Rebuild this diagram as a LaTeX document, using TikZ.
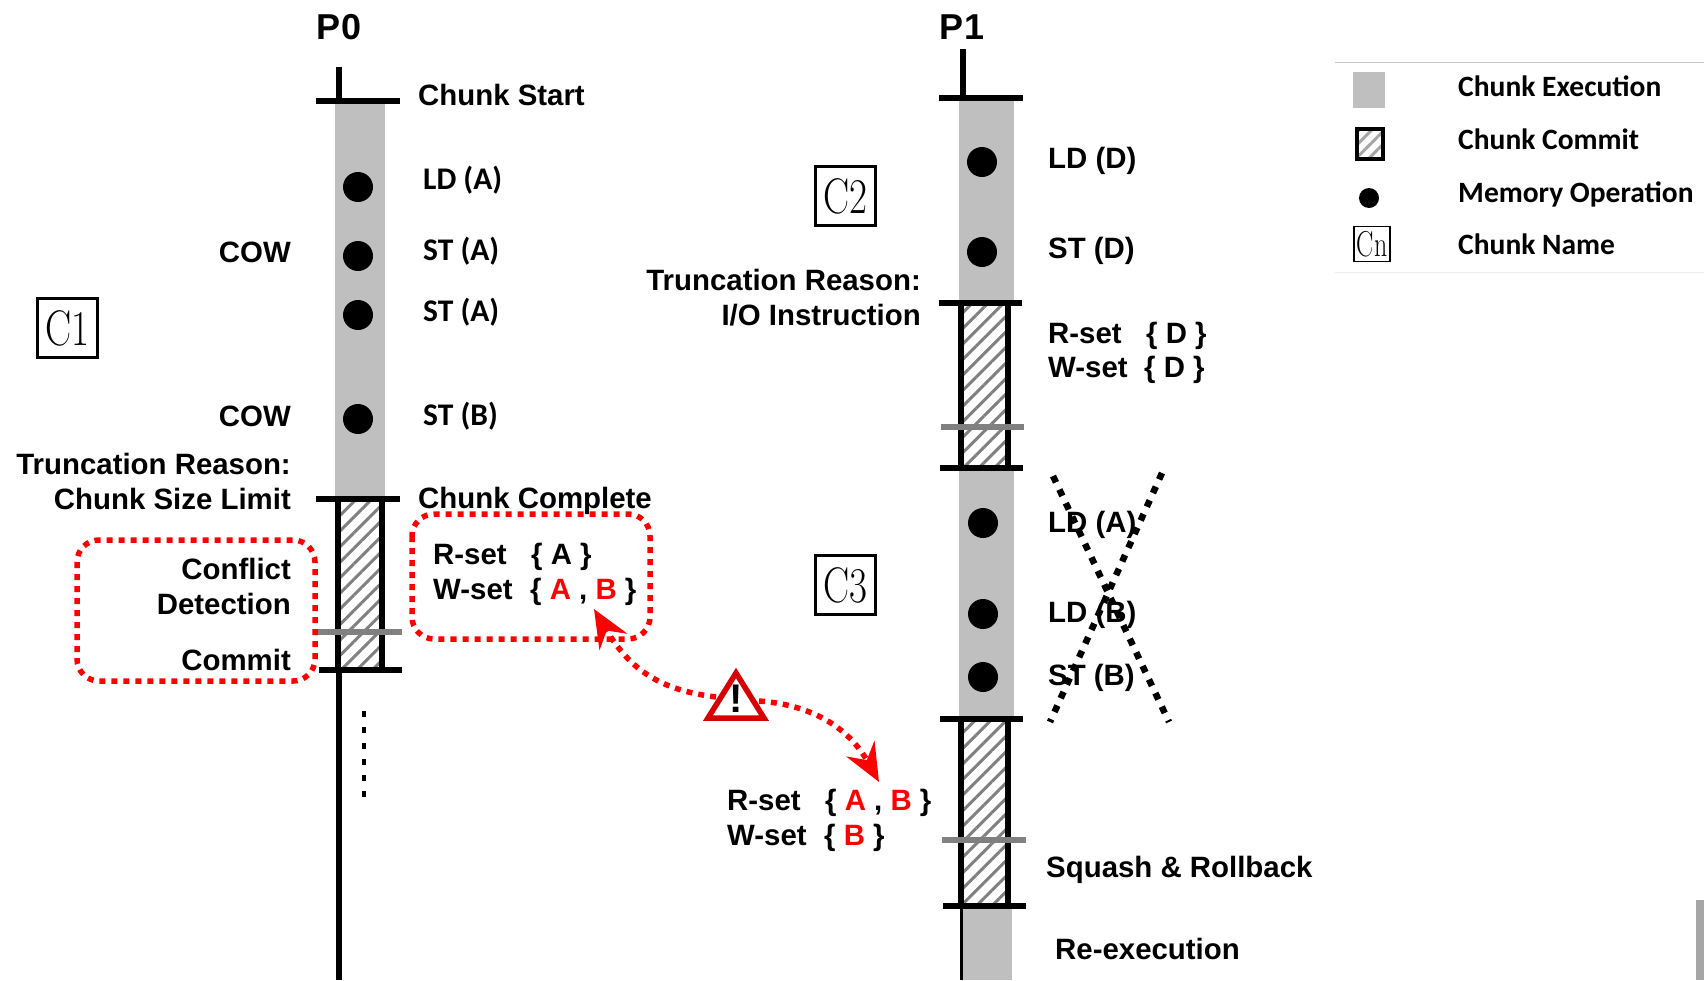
\documentclass[tikz,border=0pt]{standalone}
\usepackage{fontspec}
\usepackage{graphicx}
\usepackage{xcolor}
\usepackage{tikz}
\usetikzlibrary{arrows.meta, patterns.meta}

\newfontfamily\arialfont{Liberation Sans}
\newfontfamily\calibrifont{Carlito}
\definecolor{ChunkGray}{RGB}{191,191,191}
\definecolor{MarkGray}{RGB}{128,128,128}
\definecolor{WarnRed}{RGB}{214,0,0}
\newcommand{\redtxt}[1]{\textcolor{red}{#1}}
\newcommand{\thinname}[1]{\scalebox{.78}[1]{#1}}

\begin{document}
\begin{tikzpicture}[x=1pt, y=-1pt,
    lbl/.style={inner sep=0pt, text height=21pt, text depth=0pt, font=\fontsize{29.4}{34}\arialfont\bfseries\selectfont},
    titlelbl/.style={inner sep=0pt, text height=26pt, text depth=0pt, font=\fontsize{36}{40}\arialfont\bfseries\selectfont},
    oplbl/.style={inner sep=0pt, text height=19pt, text depth=0pt, font=\fontsize{31.5}{34}\calibrifont\bfseries\selectfont},
    leglbl/.style={oplbl, anchor=west, font=\fontsize{29.5}{34}\calibrifont\bfseries\selectfont},
    chunkname/.style={draw, line width=3pt, inner sep=0pt, minimum width=60pt, minimum height=59pt, font=\fontsize{50}{52}\selectfont},
    memop/.style={fill=black},
    bar/.style={line width=6.5pt},
    markbar/.style={line width=6.5pt, MarkGray},
    hatch/.style={pattern={Lines[angle=45, distance=11pt, line width=3pt]}, pattern color=MarkGray},
    reddots/.style={red, line width=5.5pt, dash pattern=on 6pt off 6pt},
    crossdots/.style={line width=6.5pt, dash pattern=on 7pt off 8pt},
    warnarrow/.style={red, line width=5.5pt, dash pattern=on 6pt off 6pt, -{Stealth[length=38pt, width=32pt, inset=13pt]}}
]
    \useasboundingbox (0,0) rectangle (1704,980);

    % =================================================================
    % 1. CHUNK EXECUTION COLUMNS
    % =================================================================
    \fill[ChunkGray] (335,101) rectangle (385,499);
    \fill[ChunkGray] (959,98) rectangle (1014,303);
    \fill[ChunkGray] (959,468) rectangle (1014,719);
    \fill[ChunkGray] (962,906) rectangle (1012,980);

    % Stray mark on the right edge
    \fill[gray!70] (1696,900) rectangle (1704,980);

    % =================================================================
    % 2. COMMIT BLOCKS (hatching between two thick sides)
    % =================================================================
    \foreach \xl/\xr/\ya/\yb in {338/382/499/670, 961/1008/303/468, 961/1008/719/906} {
        \fill[hatch] (\xl,\ya) rectangle (\xr,\yb);
        \draw[line width=6pt] (\xl,\ya) -- (\xl,\yb);
        \draw[line width=6pt] (\xr,\ya) -- (\xr,\yb);
    }

    % =================================================================
    % 3. THREADS AND CHUNK BOUNDARIES
    % =================================================================
    % P0
    \draw[line width=6pt] (339,67) -- (339,101);
    \draw[bar] (316,101) -- (400,101);
    \draw[bar] (316,499) -- (400,499);
    \draw[markbar] (318,632) -- (402,632);
    \draw[bar] (319,670) -- (402,670);
    \draw[line width=6pt] (339,670) -- (339,980);
    \draw[line width=4.5pt, dash pattern=on 6pt off 10pt] (364,711) -- (364,800);

    % P1
    \draw[line width=6pt] (963,49) -- (963,98);
    \draw[bar] (939,98) -- (1023,98);
    \draw[bar] (939,303) -- (1022,303);
    \draw[markbar] (941,427) -- (1024,427);
    \draw[bar] (940,468) -- (1023,468);
    \draw[bar] (940,719) -- (1023,719);
    \draw[markbar] (942,840) -- (1026,840);
    \draw[bar] (943,906) -- (1026,906);
    \draw[line width=3pt] (961,906) -- (961,980);

    % =================================================================
    % 4. MEMORY OPERATIONS
    % =================================================================
    \foreach \x/\y in {358/187, 358/256, 358/315, 358/419, 982/162, 982/252, 983/523, 983/614, 983/677} {
        \fill[memop] (\x,\y) circle (15);
    }

    % =================================================================
    % 5. LABELS OF P0
    % =================================================================
    \node[titlelbl] (P0) at (339,26) {P0};
    \node[lbl, anchor=west] (StartP0) at (418,95) {Chunk Start};
    \node[oplbl, anchor=west] (OpA) at (423,180) {LD (A)};
    \node[oplbl, anchor=west] (OpB) at (423,251) {ST (A)};
    \node[oplbl, anchor=west] (OpC) at (423,312) {ST (A)};
    \node[oplbl, anchor=west] (OpD) at (423,416) {ST (B)};
    \node[lbl, anchor=east] (CowA) at (291,252) {COW};
    \node[lbl, anchor=east] (CowB) at (291,416) {COW};
    \node[lbl, anchor=east] (ReasonC1) at (291,464) {Truncation Reason:};
    \node[lbl, anchor=east] (LimitC1) at (291,499) {Chunk Size Limit};
    \node[lbl, anchor=west] (CompleteP0) at (418,498) {Chunk Complete};
    \node[lbl, anchor=east] (Conflict) at (291,569) {Conflict};
    \node[lbl, anchor=east] (Detection) at (291,604) {Detection};
    \node[lbl, anchor=east] (CommitP0) at (291,660) {Commit};
    \node[lbl, anchor=west] (RsetC1) at (433,554) {R-set};
    \node[lbl, anchor=west] (RvalC1) at (531,554) {\{ A \}};
    \node[lbl, anchor=west] (WsetC1) at (433,589) {W-set};
    \node[lbl, anchor=west] (WvalC1) at (530,589) {\{ \redtxt{A} , \redtxt{B} \}};

    % Red dotted frames
    \draw[reddots, rounded corners=22pt] (77,540) rectangle (315,681);
    \draw[reddots, rounded corners=22pt] (412,514) rectangle (650,639);

    % =================================================================
    % 6. LABELS OF P1
    % =================================================================
    \node[titlelbl] (P1) at (962,26) {P1};
    \node[lbl, anchor=west] (OpE) at (1048,158) {LD (D)};
    \node[lbl, anchor=west] (OpF) at (1048,248) {ST (D)};
    \node[lbl, anchor=east] (ReasonC2) at (921,280) {Truncation Reason:};
    \node[lbl, anchor=east] (LimitC2) at (921,315) {I/O Instruction};
    \node[lbl, anchor=west] (RsetC2) at (1048,333) {R-set};
    \node[lbl, anchor=west] (RvalC2) at (1146,333) {\{ D \}};
    \node[lbl, anchor=west] (WsetC2) at (1048,367) {W-set};
    \node[lbl, anchor=west] (WvalC2) at (1144,367) {\{ D \}};
    \node[lbl, anchor=west] (OpG) at (1048,522) {LD (A)};
    \node[lbl, anchor=west] (OpH) at (1048,612) {LD (B)};
    \node[lbl, anchor=west] (OpI) at (1048,675) {ST (B)};
    \node[lbl, anchor=west] (Squash) at (1046,867) {Squash \& Rollback};
    \node[lbl, anchor=west] (Reexec) at (1055,949) {Re-execution};
    \node[lbl, anchor=west] (RsetC3) at (727,800) {R-set};
    \node[lbl, anchor=west] (RvalC3) at (825,800) {\{ \redtxt{A} , \redtxt{B} \}};
    \node[lbl, anchor=west] (WsetC3) at (727,835) {W-set};
    \node[lbl, anchor=west] (WvalC3) at (824,835) {\{ \redtxt{B} \}};

    % Dotted cross over the squashed operations
    \draw[crossdots] (1053,476) -- (1169,722);
    \draw[crossdots] (1162,473) -- (1050,722);

    % =================================================================
    % 7. CHUNK NAMES
    % =================================================================
    \node[chunkname] (C1) at (67,328) {\thinname{C1}};
    \node[chunkname] (C2) at (845,196) {\thinname{C2}};
    \node[chunkname] (C3) at (845,585) {\thinname{C3}};

    % =================================================================
    % 8. CONFLICT ARROW AND WARNING SIGN
    % =================================================================
    \coordinate (TipW) at (594,609);
    \coordinate (TipR) at (879,782);
    \coordinate (WarnL) at (716,697);
    \coordinate (WarnR) at (759,701);

    \draw[warnarrow] (WarnL) .. controls (660,690) and (630,670) .. (TipW);
    \draw[warnarrow] (WarnR) .. controls (815,705) and (850,730) .. (TipR);
    \draw[WarnRed, line width=5.5pt, fill=white, line join=miter] (708,718) -- (736,673) -- (764,718) -- cycle;
    \node[inner sep=0pt, font=\fontsize{40}{40}\arialfont\bfseries\selectfont] (Warn) at (736,699) {!};

    % =================================================================
    % 9. LEGEND
    % =================================================================
    \draw[gray!45, line width=1pt] (1335,62) -- (1704,62);
    \draw[gray!15, line width=1pt] (1335,272) -- (1704,272);
    \fill[ChunkGray] (1353,72) rectangle (1385,108);
    \fill[pattern={Lines[angle=45, distance=9pt, line width=3pt]}, pattern color=gray!70] (1357,129) rectangle (1383,159);
    \draw[line width=4.5pt] (1357,129) rectangle (1383,159);
    \fill[memop] (1369,198) circle (10);
    \node[draw, line width=1.5pt, inner sep=0pt, minimum width=36pt, minimum height=35pt, font=\fontsize{36}{38}\selectfont] (Cn) at (1372,244) {\scalebox{.72}[1]{Cn}};
    \node[leglbl] (LegExec) at (1458,87) {Chunk Execution};
    \node[leglbl] (LegCommit) at (1458,140) {Chunk Commit};
    \node[leglbl] (LegMem) at (1458,193) {Memory Operation};
    \node[leglbl] (LegName) at (1458,245) {Chunk Name};

\end{tikzpicture}
\end{document}
